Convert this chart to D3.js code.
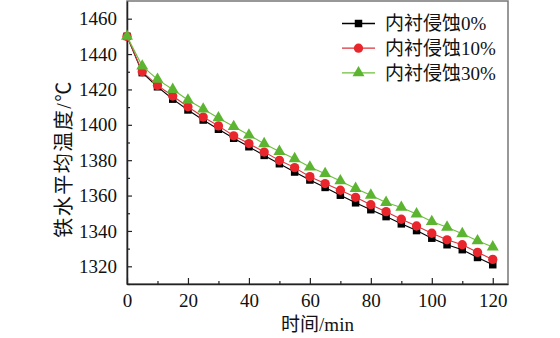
<!DOCTYPE html>
<html><head><meta charset="utf-8">
<script src="https://cdn.jsdelivr.net/npm/d3@7"></script>
<style>body{margin:0;background:#fff}svg{display:block}</style>
</head><body>
<script>
const times = [0,5,10,15,20,25,30,35,40,45,50,55,60,65,70,75,80,85,90,95,100,105,110,115,120];
const seriesNames = ["内衬侵蚀0%","内衬侵蚀10%","内衬侵蚀30%"];
const erosion0 = [1450,1429.5,1421.5,1414.5,1408.4,1402.7,1397.5,1392.4,1387.6,1382.7,1378.0,1373.3,1368.8,1364.6,1360.2,1355.9,1352.0,1348.1,1344.0,1340.2,1335.9,1332.2,1329.4,1325.0,1320.9];
const erosion10 = [1450,1430.0,1422.3,1416.3,1410.2,1404.4,1399.4,1393.8,1389.4,1384.6,1379.9,1375.8,1370.7,1366.8,1363.0,1359.0,1354.8,1350.9,1346.6,1342.8,1338.7,1335.0,1332.2,1327.9,1323.9];
const erosion30 = [1450,1433.2,1425.7,1420.0,1414.0,1408.9,1403.9,1399.0,1394.2,1389.3,1384.9,1380.8,1376.1,1372.4,1368.3,1364.0,1360.2,1356.1,1353.3,1349.6,1345.3,1342.1,1338.4,1334.4,1330.9];
const xTicks = [0,20,40,60,80,100,120];
const yTicks = [1320,1340,1360,1380,1400,1420,1440,1460];
const xTitle = "时间/min";
const yTitle = "铁水平均温度/℃";

const W = 560, H = 338;
const m = {left:127, top:1, right:52, bottom:54};
const svg = d3.select("body").append("svg").attr("width",W).attr("height",H);
const x = d3.scaleLinear().domain([0,125]).range([m.left, W-m.right]);
const y = d3.scaleLinear().domain([1310,1470]).range([H-m.bottom, m.top]);
const font = "'Liberation Serif','Times New Roman','Noto Sans CJK SC',serif";

// frame
svg.append("rect").attr("x",x(0)).attr("y",y(1470)).attr("width",x(125)-x(0)).attr("height",y(1310)-y(1470))
  .attr("fill","none").attr("stroke","#777").attr("stroke-width",1.5);

// axes
const xMinor = d3.range(10,125,20);
const yMinor = d3.range(1310,1470,20);
const gx = svg.append("g").attr("transform",`translate(0,${y(1310)})`)
  .call(d3.axisBottom(x).tickValues(xTicks).tickFormat(d3.format("d")).tickSizeInner(-6).tickSizeOuter(0).tickPadding(10));
gx.append("g").call(d3.axisBottom(x).tickValues(xMinor).tickFormat("").tickSizeInner(-3).tickSizeOuter(0)).select(".domain").remove();
const gy = svg.append("g").attr("transform",`translate(${x(0)},0)`)
  .call(d3.axisLeft(y).tickValues(yTicks).tickFormat(d3.format("d")).tickSizeInner(-5).tickSizeOuter(0).tickPadding(10));
gy.append("g").call(d3.axisLeft(y).tickValues(yMinor).tickFormat("").tickSizeInner(-3).tickSizeOuter(0)).select(".domain").remove();
svg.selectAll(".domain").attr("stroke","#222").attr("stroke-width",1.5);
svg.selectAll(".tick line").attr("stroke","#222").attr("stroke-width",1.2);
svg.selectAll(".tick text").attr("font-family",font).attr("font-size",19).attr("fill","#111");

// titles
svg.append("text").attr("x",x(62.5)).attr("y",331).attr("text-anchor","middle")
  .attr("font-family",font).attr("font-size",19).attr("fill","#111").text(xTitle);
svg.append("text").attr("transform",`translate(71,159) rotate(-90)`).attr("text-anchor","middle")
  .attr("font-family",font).attr("font-size",20).attr("letter-spacing",1.5).attr("fill","#111").text(yTitle);

// series
const series = [
  {name:seriesNames[0], vals:erosion0, color:"#000000", line:"#000000", shape:"square"},
  {name:seriesNames[1], vals:erosion10, color:"#e8262b", line:"#d9333a", shape:"circle"},
  {name:seriesNames[2], vals:erosion30, color:"#5cb531", line:"#6cbf3c", shape:"triangle"}
];
const symGen = {square:d3.symbol().type(d3.symbolSquare).size(56),
                circle:d3.symbol().type(d3.symbolCircle).size(68),
                triangle:d3.symbol().type(d3.symbolTriangle).size(62)};
const line = d3.line().x(d=>x(d[0])).y(d=>y(d[1]));
series.forEach(s=>{
  const pts = times.map((t,i)=>[t,s.vals[i]]);
  svg.append("path").datum(pts).attr("d",line).attr("fill","none").attr("stroke",s.line).attr("stroke-width",1.1);
  svg.append("g").selectAll("path").data(pts).join("path")
    .attr("transform",d=>`translate(${x(d[0])},${y(d[1])})`)
    .attr("d",symGen[s.shape]()).attr("fill",s.color);
});

// legend
series.forEach((s,i)=>{
  const cy = 23.5 + i*24.7;
  svg.append("line").attr("x1",342).attr("x2",375).attr("y1",cy).attr("y2",cy).attr("stroke",s.line).attr("stroke-width",1.3);
  svg.append("path").attr("transform",`translate(358.5,${cy})`).attr("d",symGen[s.shape]()).attr("fill",s.color);
  svg.append("text").attr("x",385).attr("y",cy).attr("dy","0.35em")
    .attr("font-family",font).attr("font-size",19).attr("fill","#111").text(s.name);
});
</script>
</body></html>
